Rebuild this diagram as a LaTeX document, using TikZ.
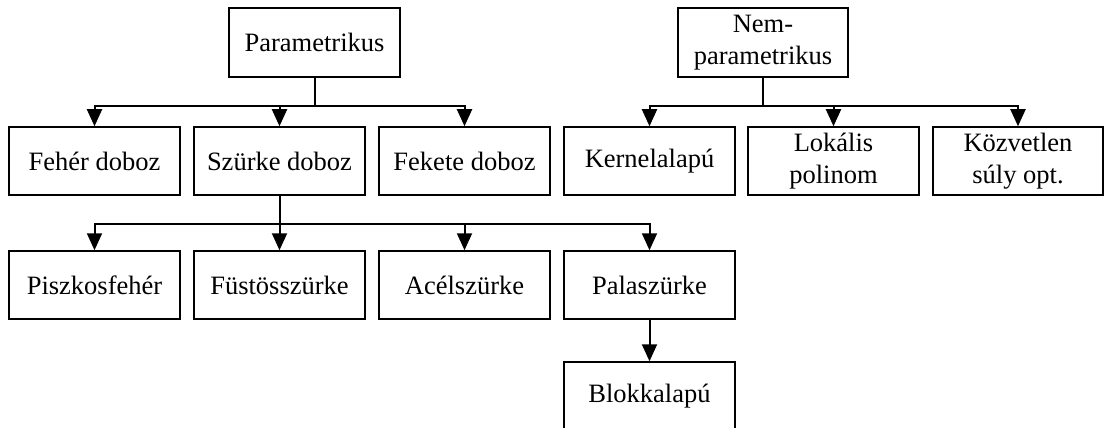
\documentclass[tikz,border=0pt]{standalone}
\usepackage{fontspec}
\setmainfont{Liberation Serif}
\usetikzlibrary{arrows.meta}
\begin{document}
\begin{tikzpicture}[x=1pt,y=-1pt,
  box/.style={draw, line width=1.5pt, minimum width=171pt, minimum height=68pt,
    inner sep=0pt, align=center, font=\fontsize{26.5}{31.5}\selectfont},
  arr/.style={line width=2pt, -{Triangle[width=15pt,length=17pt]}}]
\useasboundingbox (0,0) rectangle (1104,428);
\clip (0,0) rectangle (1104,428);
% row 1
\node[box, minimum height=69pt] (P) at (314.5,42.5) {Parametrikus};
\node[box, minimum height=69pt, minimum width=170pt] (N) at (763,42.5) {Nem-\\parametrikus};
% row 2
\node[box] (F)  at (94.5,161) {Fehér doboz};
\node[box] (S)  at (279.5,161) {Szürke doboz};
\node[box] (K)  at (464.5,161) {Fekete doboz};
\node[box] (KE) at (649.5,161) {Kernelalapú};
\node[box] (L)  at (833.5,161) {Lokális\\polinom};
\node[box, minimum width=170pt] (KO) at (1018,161) {Közvetlen\\súly opt.};
% row 3
\node[box] (PI) at (94.5,285) {Piszkosfehér};
\node[box] (FU) at (279.5,285) {Füstösszürke};
\node[box] (AC) at (464.5,285) {Acélszürke};
\node[box] (PA) at (649.5,285) {Palaszürke};
% row 4
\node[box] (B) at (649.5,396) {Blokkalapú};
% connectors
\draw[arr] (P.south) -- ++(0,28) -| (F.north);
\draw[arr] (P.south) -- ++(0,28) -| (S.north);
\draw[arr] (P.south) -- ++(0,28) -| (K.north);
\draw[arr] (N.south) -- ++(0,28) -| (KE.north);
\draw[arr] (N.south) -- ++(0,28) -| (L.north);
\draw[arr] (N.south) -- ++(0,28) -| (KO.north);
\draw[arr] (S.south) -- ++(0,28) -| (PI.north);
\draw[arr] (S.south) -- ++(0,28) -| (FU.north);
\draw[arr] (S.south) -- ++(0,28) -| (AC.north);
\draw[arr] (S.south) -- ++(0,28) -| (PA.north);
\draw[arr] (PA.south) -- (B.north);
\end{tikzpicture}
\end{document}
